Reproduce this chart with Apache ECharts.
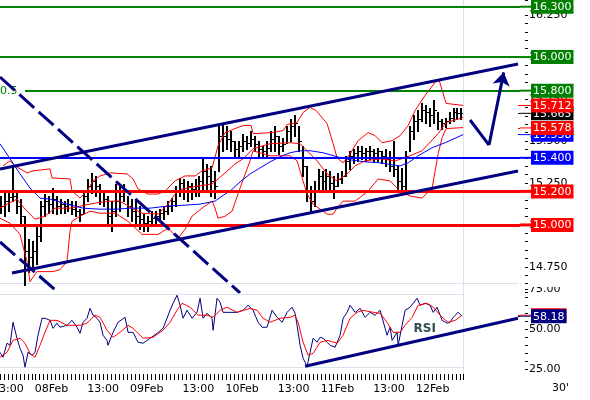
<!DOCTYPE html>
<html><head><meta charset="utf-8">
<script src="https://cdn.jsdelivr.net/npm/echarts@6/dist/echarts.min.js"></script>
<style>html,body{margin:0;padding:0;background:#fff}#c{width:590px;height:400px}</style>
</head><body><div id="c"></div>
<script>
// hours counted from 07Feb 00:00; one bar per hour starting 07Feb 11:00
const FIRST_HOUR = 11;
const barHigh = [
 15.172,15.190,15.202,15.352,15.202,15.154,15.052,14.914,14.902,14.992,
 15.142,15.184,15.172,15.220,15.172,15.154,15.142,15.154,15.142,15.142,
 15.094,15.202,15.274,15.310,15.292,15.244,15.202,15.172,15.142,15.244,
 15.244,15.244,15.172,15.154,15.142,15.112,15.064,15.052,15.082,15.082,
 15.094,15.112,15.142,15.160,15.232,15.280,15.274,15.262,15.250,15.274,
 15.292,15.394,15.364,15.352,15.322,15.592,15.604,15.592,15.562,15.502,
 15.502,15.544,15.532,15.562,15.532,15.502,15.472,15.502,15.562,15.592,
 15.532,15.520,15.592,15.634,15.652,15.592,15.472,15.352,15.232,15.262,
 15.334,15.322,15.334,15.322,15.292,15.310,15.322,15.412,15.442,15.454,
 15.472,15.472,15.460,15.472,15.454,15.460,15.442,15.454,15.442,15.502,
 15.352,15.340,15.442,15.592,15.652,15.682,15.724,15.712,15.694,15.742,
 15.670,15.634,15.640,15.670,15.694,15.694,15.694];
const barLow = [
 15.070,15.052,15.082,15.142,15.070,15.010,14.644,14.722,14.734,14.770,
 14.902,15.052,15.070,15.070,15.064,15.070,15.070,15.082,15.064,15.052,
 15.022,15.070,15.142,15.190,15.172,15.124,15.112,14.992,14.962,15.052,
 15.082,15.142,15.052,15.022,15.010,14.974,14.962,14.962,14.992,15.010,
 15.022,15.034,15.064,15.082,15.112,15.172,15.154,15.142,15.154,15.172,
 15.172,15.202,15.202,15.172,15.160,15.322,15.442,15.454,15.442,15.412,
 15.412,15.442,15.454,15.472,15.442,15.412,15.400,15.412,15.442,15.442,
 15.424,15.442,15.490,15.502,15.532,15.442,15.292,15.142,15.070,15.112,
 15.202,15.202,15.214,15.202,15.160,15.232,15.250,15.292,15.334,15.370,
 15.382,15.394,15.382,15.394,15.382,15.382,15.370,15.352,15.322,15.292,
 15.202,15.190,15.190,15.442,15.514,15.562,15.622,15.610,15.592,15.610,
 15.574,15.574,15.586,15.610,15.622,15.634,15.634];
const barClose = [
 15.112,15.142,15.166,15.172,15.112,15.052,14.842,14.812,14.842,14.932,
 15.112,15.142,15.124,15.154,15.112,15.124,15.112,15.124,15.094,15.082,
 15.064,15.172,15.232,15.262,15.232,15.202,15.154,15.052,15.082,15.142,
 15.172,15.202,15.112,15.082,15.052,15.034,15.010,15.022,15.040,15.052,
 15.070,15.082,15.112,15.142,15.202,15.250,15.202,15.232,15.214,15.232,
 15.262,15.322,15.292,15.262,15.232,15.532,15.532,15.514,15.502,15.454,
 15.472,15.502,15.490,15.514,15.484,15.454,15.442,15.460,15.514,15.532,
 15.472,15.484,15.562,15.592,15.610,15.502,15.352,15.202,15.142,15.202,
 15.292,15.262,15.292,15.250,15.232,15.274,15.292,15.382,15.412,15.430,
 15.442,15.430,15.442,15.442,15.430,15.442,15.412,15.394,15.352,15.334,
 15.262,15.232,15.412,15.562,15.622,15.634,15.682,15.670,15.652,15.682,
 15.622,15.610,15.622,15.640,15.670,15.664,15.665];

const upperBand = [[11.76,15.352],[13.52,15.382],[14.78,15.352],[17.8,15.310],[19.32,15.322],[23.6,15.334],[24.1,15.280],[28.64,15.274],[29.14,15.202],[31.16,15.160],[32.92,15.202],[34.44,15.262],[36.2,15.292],[38.72,15.310],[43.0,15.304],[44.52,15.274],[45.78,15.214],[48.3,15.184],[50.82,15.184],[52.58,15.202],[55.1,15.262],[57.62,15.292],[60.14,15.292],[61.9,15.322],[64.42,15.340],[65.94,15.472],[67.7,15.550],[70.22,15.574],[72.24,15.592],[74.25,15.592],[74.76,15.544],[79.54,15.550],[82.32,15.562],[83.32,15.598],[85.84,15.610],[87.36,15.670],[89.12,15.700],[90.63,15.682],[93.4,15.604],[94.92,15.484],[95.92,15.400],[97.44,15.370],[99.2,15.424],[101.22,15.502],[103.74,15.550],[105.5,15.532],[107.26,15.490],[109.78,15.502],[111.8,15.532],[113.82,15.592],[115.58,15.682],[118.1,15.772],[120.62,15.850],[121.63,15.862],[122.38,15.802],[123.39,15.724],[127.68,15.712]];
const middleBand = [[11.0,15.100],[12.76,15.124],[15.28,15.154],[17.3,15.094],[19.82,15.034],[22.34,15.052],[24.86,15.100],[28.64,15.100],[32.42,15.118],[34.94,15.130],[38.72,15.142],[41.24,15.142],[43.76,15.106],[46.78,15.070],[50.82,15.064],[53.34,15.124],[55.1,15.184],[56.86,15.214],[60.9,15.232],[64.42,15.244],[65.94,15.274],[67.7,15.310],[70.22,15.364],[72.24,15.394],[74.76,15.454],[79.04,15.484],[84.08,15.490],[86.6,15.484],[88.36,15.442],[90.88,15.382],[93.4,15.304],[95.92,15.262],[98.44,15.304],[100.46,15.352],[102.98,15.382],[106.76,15.394],[110.54,15.382],[113.06,15.400],[117.34,15.442],[121.38,15.544],[123.39,15.610],[127.68,15.640]];
const lowerBand = [[11.0,15.040],[13.52,15.010],[16.04,14.944],[17.8,14.782],[18.56,14.662],[20.32,14.722],[24.36,14.722],[26.12,14.734],[27.88,14.782],[28.64,14.962],[29.14,15.022],[31.16,15.052],[33.68,15.082],[36.2,15.070],[39.98,15.070],[43.26,15.022],[46.78,14.944],[50.82,14.944],[53.34,14.980],[55.86,14.920],[57.62,14.974],[59.38,15.052],[61.9,15.100],[64.42,15.142],[65.18,15.100],[65.94,15.040],[67.7,15.052],[69.46,15.082],[71.48,15.220],[74.0,15.382],[74.76,15.442],[79.04,15.412],[84.08,15.412],[85.84,15.382],[88.36,15.184],[89.88,15.124],[91.64,15.094],[93.4,15.064],[94.92,15.064],[95.92,15.100],[97.44,15.142],[100.46,15.142],[103.74,15.202],[106.26,15.274],[109.28,15.262],[111.8,15.202],[114.32,15.172],[117.34,15.160],[119.86,15.220],[121.38,15.424],[122.38,15.520],[123.39,15.574],[127.68,15.580]];
const maLine = [[11.0,15.484],[13.52,15.394],[16.04,15.304],[18.56,15.220],[21.08,15.160],[23.6,15.154],[27.88,15.124],[31.92,15.100],[36.2,15.094],[40.48,15.094],[43.76,15.100],[48.8,15.100],[53.08,15.112],[57.62,15.118],[61.4,15.124],[65.18,15.142],[66.94,15.172],[68.96,15.202],[71.48,15.256],[74.0,15.304],[76.52,15.340],[79.04,15.376],[81.56,15.406],[84.08,15.430],[86.6,15.442],[89.12,15.442],[92.4,15.430],[95.92,15.406],[99.2,15.388],[102.98,15.376],[106.76,15.370],[109.78,15.358],[111.8,15.352],[113.82,15.370],[116.34,15.412],[119.86,15.460],[123.14,15.490],[127.68,15.538]];

const rsiLine = [[11.0,35.6],[11.76,32.5],[12.76,41.3],[13.52,40.0],[14.28,54.4],[15.28,44.4],[16.04,38.1],[16.8,33.8],[17.3,26.3],[18.06,35.6],[19.06,33.8],[19.82,35.6],[20.58,46.3],[21.58,56.9],[22.34,56.9],[23.6,55.6],[24.36,50.6],[25.36,53.8],[26.12,51.3],[27.88,52.5],[29.14,55.6],[30.4,51.3],[31.16,47.5],[31.92,54.4],[32.92,56.9],[33.68,63.1],[34.44,58.8],[35.44,56.9],[36.2,54.4],[36.96,46.3],[37.96,43.1],[38.2,40.0],[39.48,48.1],[40.74,54.4],[42.5,57.5],[43.26,48.1],[44.52,48.1],[45.78,41.9],[47.04,41.3],[48.8,44.4],[50.56,47.5],[52.08,50.6],[53.08,56.9],[53.84,61.9],[54.6,66.3],[55.6,71.3],[56.36,65.0],[57.12,56.9],[58.12,61.9],[59.38,56.9],[60.64,60.6],[61.4,69.4],[62.16,56.9],[63.16,60.0],[64.42,56.9],[64.68,49.4],[65.68,69.4],[66.44,66.9],[67.2,60.6],[68.96,60.6],[70.72,60.6],[72.24,61.9],[73.5,65.0],[74.76,61.9],[76.02,54.4],[77.02,51.3],[78.28,51.3],[79.54,61.9],[80.8,57.5],[82.06,54.4],[83.32,60.6],[84.58,63.8],[85.34,60.0],[85.84,52.5],[86.6,40.0],[87.36,31.9],[88.36,26.9],[89.12,35.6],[89.88,44.4],[90.88,41.9],[91.64,45.0],[92.4,44.4],[93.4,41.9],[94.16,40.0],[95.42,38.8],[96.68,46.3],[97.44,56.9],[98.44,60.6],[99.2,65.0],[100.46,60.6],[101.72,63.1],[102.98,57.5],[104.24,60.6],[105.5,58.8],[106.76,61.9],[108.02,50.6],[108.52,46.3],[109.28,51.3],[109.78,43.1],[111.04,48.1],[111.3,40.0],[112.3,52.5],[113.06,61.9],[114.32,63.8],[116.08,69.4],[116.84,65.0],[118.1,66.3],[119.36,65.0],[120.12,60.6],[121.12,63.8],[122.38,55.6],[123.64,53.8],[124.4,54.4],[125.16,57.5],[126.42,60.6],[127.42,58.2]];
const rsiSignal = [[11.0,32.5],[12.76,35.6],[14.28,43.1],[16.04,44.4],[17.3,41.3],[18.56,35.0],[19.82,32.5],[21.08,40.0],[22.34,48.1],[23.6,55.6],[25.36,55.6],[27.88,52.5],[31.16,52.5],[32.92,53.8],[34.94,58.8],[36.2,57.5],[37.96,49.4],[39.48,45.0],[41.24,48.1],[43.26,52.5],[44.52,50.6],[47.04,44.4],[49.56,45.0],[52.08,49.4],[53.84,54.4],[55.6,61.9],[56.86,66.3],[58.88,63.8],[60.9,58.8],[63.16,58.8],[64.68,57.5],[66.44,61.9],[68.2,63.8],[70.72,60.6],[74.0,63.1],[75.76,61.9],[77.28,56.9],[79.04,54.4],[81.56,56.9],[84.08,57.5],[85.34,58.8],[86.1,54.4],[87.36,41.9],[88.62,33.8],[89.88,35.0],[91.64,41.9],[93.4,43.1],[95.92,41.3],[97.44,46.3],[99.2,56.9],[100.96,60.6],[102.48,61.9],[105.0,60.6],[106.76,60.0],[108.52,54.4],[110.04,48.1],[111.8,48.1],[113.06,52.5],[114.82,57.5],[116.34,65.0],[118.6,66.3],[120.12,63.8],[122.38,57.5],[123.9,54.4],[125.66,55.6],[127.42,58.8]];

const greenLevels = [16.3, 16.0];
const fibLevel = 15.8;
const blueLevels = [15.4];
const redLevels = [15.2, 15.0];
const lastUpper = 15.712, lastClose = 15.665, lastLower = 15.578, lastMA = 15.538;
const lastRSI = 58.18, lastSignal = 58.8;
const channelUpper = [[11, 15.333], [141.5, 15.959]];
const channelLower = [[14.02, 14.714], [141.5, 15.321]];
const dashA = [[11, 15.881], [71.47, 14.595]];
const dashB = [[11, 14.899], [25.61, 14.599]];
const arrowPts = [[129.42, 15.625], [134.2, 15.476], [137.9, 15.909]];
const rsiTrend = [[87.86, 26.9], [141.5, 56.9]];
const dayNames = {24: '08Feb', 48: '09Feb', 72: '10Feb', 96: '11Feb', 120: '12Feb'};

const FONT = 'DejaVu Sans';
const NAVY = '#000080', RED = '#ff0000', GREEN = '#008000', BLUE = '#0000ff', LIGHT = '#d6e2ec';

const barData = barClose.map((c, i) => [FIRST_HOUR + i, i ? barClose[i - 1] : c, c, barLow[i], barHigh[i]]);

function boxLabel(color, text, lh) {
  return {
    show: true, position: 'end', distance: 0,
    formatter: '{l|}{b|' + text + '}',
    rich: {
      l: {width: 11, height: lh, backgroundColor: color, verticalAlign: 'middle'},
      b: {color: '#fff', backgroundColor: color, padding: [2, 2, 1, 2], fontSize: 11, fontFamily: FONT, lineHeight: 12, verticalAlign: 'middle'}
    }
  };
}
function lineS(data, color, width, z, xi, yi, extra) {
  return Object.assign({type: 'line', data: data, xAxisIndex: xi, yAxisIndex: yi, symbol: 'none', showSymbol: false,
    z: z, silent: true, animation: false, clip: true, lineStyle: {color: color, width: width}}, extra || {});
}
function valueMarker(v, color, text, z, xi, yi) {
  return {type: 'line', data: [], xAxisIndex: xi, yAxisIndex: yi, silent: true, animation: false, z: z,
    markLine: {z: z, symbol: 'none', silent: true, animation: false,
      lineStyle: {color: color, width: 1, type: 'solid'},
      data: [[{coord: [141.5, v], label: boxLabel(color, text, 1)}, {coord: [142, v]}]]}};
}

const levelMarks = [];
greenLevels.forEach(v => levelMarks.push({yAxis: v, lineStyle: {color: GREEN, width: 2, type: 'solid'}, label: boxLabel(GREEN, v.toFixed(3), 2)}));
levelMarks.push([{coord: [17.3, fibLevel], lineStyle: {color: GREEN, width: 2, type: 'solid'}, label: boxLabel(GREEN, fibLevel.toFixed(3), 2)}, {coord: [142, fibLevel]}]);
blueLevels.forEach(v => levelMarks.push({yAxis: v, lineStyle: {color: BLUE, width: 2, type: 'solid'}, label: boxLabel(BLUE, v.toFixed(3), 2)}));
redLevels.forEach(v => levelMarks.push({yAxis: v, lineStyle: {color: RED, width: 3, type: 'solid'}, label: boxLabel(RED, v.toFixed(3), 3)}));

const series = [
  {type: 'custom', xAxisIndex: 0, yAxisIndex: 0, z: 2, silent: true, animation: false, clip: true,
    data: barData, encode: {x: 0, y: [1, 2, 3, 4]},
    renderItem: function (params, api) {
      const h = api.value(0);
      const pO = api.coord([h, api.value(1)]), pC = api.coord([h, api.value(2)]);
      const pL = api.coord([h, api.value(3)]), pH = api.coord([h, api.value(4)]);
      const x = Math.round(pH[0]);
      const yo = Math.round(pO[1]) + 0.5, yc = Math.round(pC[1]) + 0.5;
      const st = {stroke: '#000', lineWidth: 1};
      return {type: 'group', children: [
        {type: 'line', shape: {x1: x + 1, y1: Math.round(pH[1]), x2: x + 1, y2: Math.round(pL[1]) + 1}, style: {stroke: '#000', lineWidth: 2}},
        {type: 'line', shape: {x1: x - 1, y1: yo, x2: x, y2: yo}, style: st},
        {type: 'line', shape: {x1: x + 2, y1: yc, x2: x + 3, y2: yc}, style: st}
      ]};
    }},
  lineS(upperBand, RED, 1, 3, 0, 0),
  lineS(middleBand, RED, 1, 3, 0, 0),
  lineS(lowerBand, RED, 1, 3, 0, 0),
  lineS(maLine, BLUE, 1, 3, 0, 0),
  {type: 'line', data: [], xAxisIndex: 0, yAxisIndex: 0, silent: true, animation: false, z: 4,
    markLine: {z: 4, symbol: 'none', silent: true, animation: false, data: levelMarks},
    markPoint: {z: 4, silent: true, animation: false, data: [
      {coord: [11, fibLevel], symbol: 'rect', symbolSize: 0,
        label: {show: true, position: 'right', distance: 0, formatter: '0.5', color: GREEN, fontSize: 11, fontFamily: FONT}}
    ]}},
  {type: 'line', data: [], xAxisIndex: 0, yAxisIndex: 0, silent: true, animation: false, z: 1,
    markLine: {z: 1, symbol: 'none', silent: true, animation: false, lineStyle: {color: LIGHT, width: 1, type: 'solid'},
      data: [[{coord: [11, 14.654]}, {coord: [141.5, 14.654]}]]}},
  lineS(channelUpper, NAVY, 3, 6, 0, 0),
  lineS(channelLower, NAVY, 3, 6, 0, 0),
  lineS(dashA, NAVY, 3, 6, 0, 0, {lineStyle: {color: NAVY, width: 3, type: [20, 6]}}),
  lineS(dashB, NAVY, 3, 6, 0, 0, {lineStyle: {color: NAVY, width: 3, type: [20, 6]}}),
  {type: 'line', data: [], xAxisIndex: 0, yAxisIndex: 0, silent: true, animation: false, z: 6,
    markLine: {z: 6, symbol: ['none', 'none'], silent: true, animation: false, label: {show: false},
      lineStyle: {color: NAVY, width: 3, type: 'solid'},
      data: [
        [{coord: arrowPts[0]}, {coord: arrowPts[1]}],
        [{coord: arrowPts[1]}, {coord: arrowPts[2], symbol: 'arrow', symbolSize: 13}]
      ]}},
  valueMarker(lastMA, BLUE, lastMA.toFixed(3), 7, 0, 0),
  valueMarker(lastClose, '#000', lastClose.toFixed(3), 8, 0, 0),
  valueMarker(lastLower, RED, lastLower.toFixed(3), 9, 0, 0),
  valueMarker(lastUpper, RED, lastUpper.toFixed(3), 10, 0, 0),
  // RSI panel
  {type: 'line', data: [], xAxisIndex: 1, yAxisIndex: 1, silent: true, animation: false, z: 1,
    markLine: {z: 1, symbol: 'none', silent: true, animation: false, label: {show: false}, lineStyle: {color: LIGHT, width: 1, type: 'solid'},
      data: [[{coord: [11, 71.9]}, {coord: [127.65, 71.9]}], [{coord: [11, 26.25]}, {coord: [127.65, 26.25]}]]}},
  lineS(rsiLine, NAVY, 1, 3, 1, 1),
  lineS(rsiSignal, RED, 1, 4, 1, 1),
  lineS(rsiTrend, NAVY, 3, 6, 1, 1, {clip: false}),
  {type: 'line', data: [], xAxisIndex: 1, yAxisIndex: 1, silent: true, animation: false, z: 6,
    markPoint: {z: 6, silent: true, animation: false, data: [
      {coord: [118, 50], symbol: 'rect', symbolSize: 0,
        label: {show: true, position: 'inside', formatter: 'RSI', color: '#2f4f4f', fontSize: 12, fontWeight: 'bold', fontFamily: FONT}}
    ]}},
  valueMarker(lastSignal, RED, lastSignal.toFixed(2), 7, 1, 1),
  valueMarker(lastRSI, NAVY, lastRSI.toFixed(2), 8, 1, 1),
  // time axis frame line
  {type: 'line', data: [], xAxisIndex: 2, yAxisIndex: 2, silent: true, animation: false, z: 1,
    markLine: {z: 1, symbol: 'none', silent: true, animation: false, label: {show: false}, lineStyle: {color: LIGHT, width: 1, type: 'solid'},
      data: [{xAxis: 127.65}]}}
];

const chart = echarts.init(document.getElementById('c'), null, {renderer: 'canvas'});
chart.setOption({
  animation: false,
  backgroundColor: '#fff',
  textStyle: {fontFamily: FONT},
  grid: [
    {left: 0, right: 70, top: 0, height: 292.1, containLabel: false, outerBoundsMode: 'none'},
    {left: 0, right: 70, top: 289.3, height: 80, containLabel: false, outerBoundsMode: 'none'},
    {left: 0, width: 463, top: 0, height: 374, containLabel: false, outerBoundsMode: 'none'}
  ],
  xAxis: [
    {gridIndex: 0, type: 'value', min: 11, max: 142, show: false},
    {gridIndex: 1, type: 'value', min: 11, max: 142, show: false},
    {gridIndex: 2, type: 'value', min: 11, max: 127.65, interval: 1,
      axisLine: {show: false}, splitLine: {show: false},
      axisTick: {show: true, length: 6, lineStyle: {color: '#000', width: 1}},
      axisLabel: {margin: 10, fontSize: 11, fontFamily: FONT, color: '#000',
        formatter: function (v) {
          const r = Math.round(v);
          if (Math.abs(v - r) > 1e-6) return '';
          if (r % 24 === 0) return dayNames[r] || '';
          if (r % 24 === 13) return '13:00';
          return '';
        }}}
  ],
  yAxis: [
    {gridIndex: 0, type: 'value', position: 'right', offset: 5, min: 14.6, max: 16.34, interval: 0.05,
      axisLine: {show: false}, splitLine: {show: false},
      axisTick: {show: true, length: 3, lineStyle: {color: '#000'}},
      axisLabel: {margin: 4, fontSize: 11, fontFamily: FONT, color: '#000',
        formatter: function (v) { return Math.abs(v * 4 - Math.round(v * 4)) < 1e-6 ? v.toFixed(3) : ''; }}},
    {gridIndex: 1, type: 'value', position: 'right', offset: 5, min: 25, max: 75, interval: 5,
      axisLine: {show: false}, splitLine: {show: false},
      axisTick: {show: true, length: 3, lineStyle: {color: '#000'}},
      axisLabel: {margin: 4, fontSize: 11, fontFamily: FONT, color: '#000',
        formatter: function (v) { return Math.abs(v % 25) < 1e-6 ? v.toFixed(2) : ''; }}},
    {gridIndex: 2, type: 'value', min: 0, max: 1, show: false}
  ],
  graphic: [
    {type: 'text', left: 552, top: 383, silent: true,
      style: {text: "30'", fill: '#000', font: '11px "DejaVu Sans"'}},
    {type: 'rect', shape: {x: 530, y: 279, width: 60, height: 8}, style: {fill: '#fff'}, z: 100, silent: true}
  ],
  series: series
});
</script>
</body></html>
